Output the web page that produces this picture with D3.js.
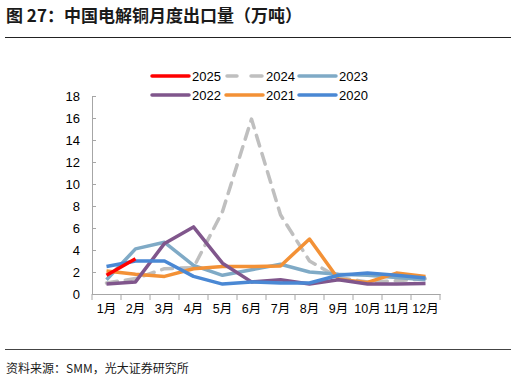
<!DOCTYPE html>
<html><head><meta charset="utf-8">
<script src="https://cdn.jsdelivr.net/npm/d3@7"></script>
<style>
body{margin:0;background:#fff;}
text{font-family:"Liberation Sans","Noto Sans CJK SC",sans-serif;}
</style></head>
<body><svg id="c" width="516" height="382"></svg>
<script>
const months = ["1月","2月","3月","4月","5月","6月","7月","8月","9月","10月","11月","12月"];
const yTicks = [0,2,4,6,8,10,12,14,16,18];
const s2025 = [1.7, 3.2];
const s2024 = [1.0, 1.4, 2.3, 2.4, 7.5, 15.9, 7.2, 3.0, 1.5, 1.1, 1.2, 1.4];
const s2023 = [1.3, 4.1, 4.7, 2.6, 1.7, 2.2, 2.7, 2.0, 1.8, 1.7, 1.5, 1.3];
const s2022 = [0.9, 1.1, 4.6, 6.1, 2.8, 1.1, 1.3, 0.9, 1.3, 0.9, 0.9, 0.95];
const s2021 = [2.1, 1.8, 1.6, 2.3, 2.5, 2.5, 2.55, 5.0, 1.35, 1.05, 1.9, 1.6];
const s2020 = [2.5, 3.0, 3.0, 1.6, 0.9, 1.1, 1.0, 1.0, 1.7, 1.9, 1.7, 1.45];

const series = [
  {name:"2025", data:s2025, color:"#FF0000", dash:null},
  {name:"2024", data:s2024, color:"#BFBFBF", dash:"11,8"},
  {name:"2023", data:s2023, color:"#7FAAC6", dash:null},
  {name:"2022", data:s2022, color:"#80568C", dash:null},
  {name:"2021", data:s2021, color:"#F39136", dash:null},
  {name:"2020", data:s2020, color:"#4A88D4", dash:null}
];
const drawOrder = ["2024","2023","2021","2022","2020","2025"];

const svg = d3.select("#c");
const x = d3.scaleBand().domain(months).range([92,440]);
const y = d3.scaleLinear().domain([0,18]).range([294,96]);

// title
svg.append("text").attr("x",6).attr("y",22).attr("font-size",17).attr("font-weight","bold")
  .attr("fill","#1a1a1a").style("font-family","'Noto Sans CJK SC',sans-serif")
  .text("图 27：中国电解铜月度出口量（万吨）");
svg.append("line").attr("x1",5).attr("x2",511).attr("y1",37.5).attr("y2",37.5)
  .attr("stroke","#222").attr("stroke-width",1);

// y axis
const ya = svg.append("g").attr("transform","translate(92,0)")
  .call(d3.axisLeft(y).tickValues(yTicks).tickSizeInner(-4).tickSizeOuter(0).tickPadding(12));
ya.select(".domain").attr("stroke","#A6A6A6");
ya.selectAll(".tick line").attr("stroke","#A6A6A6");
ya.selectAll("text").attr("font-size",13).attr("fill","#000").style("font-family","'Liberation Sans',sans-serif");

// x axis
const xa = svg.append("g").attr("transform","translate(0,294)")
  .call(d3.axisBottom(x).tickSize(0).tickPadding(10));
xa.select(".domain").attr("stroke","#A6A6A6");
xa.selectAll("text").attr("font-size",12.5).attr("fill","#000");
const edges = d3.range(0,13).map(i=>92+x.step()*i);
svg.append("g").selectAll("line").data(edges).join("line")
  .attr("x1",d=>d).attr("x2",d=>d).attr("y1",294).attr("y2",300)
  .attr("stroke","#A6A6A6");

// lines
const line = d3.line().x((d,i)=>x(months[i])+x.bandwidth()/2).y(d=>y(d));
drawOrder.forEach(n=>{
  const s = series.find(t=>t.name===n);
  svg.append("path").attr("d",line(s.data)).attr("fill","none")
    .attr("stroke",s.color).attr("stroke-width",3.5)
    .attr("stroke-linejoin","round").attr("stroke-linecap", s.dash? "round":"butt")
    .attr("stroke-dasharray",s.dash);
});

// legend
const legPos = [[152,76],[226,76],[299,76],[152,95],[226,95],[299,95]];
series.forEach((s,i)=>{
  const [lx,ly] = legPos[i];
  const g = svg.append("g");
  if(s.dash){
    g.append("line").attr("x1",lx+1).attr("x2",lx+11).attr("y1",ly).attr("y2",ly)
      .attr("stroke",s.color).attr("stroke-width",3.5).attr("stroke-linecap","round");
    g.append("line").attr("x1",lx+25).attr("x2",lx+36).attr("y1",ly).attr("y2",ly)
      .attr("stroke",s.color).attr("stroke-width",3.5).attr("stroke-linecap","round");
  } else {
    g.append("line").attr("x1",lx).attr("x2",lx+37).attr("y1",ly).attr("y2",ly)
      .attr("stroke",s.color).attr("stroke-width",3.5).attr("stroke-linecap","round");
  }
  g.append("text").attr("x",lx+40).attr("y",ly+5).attr("font-size",13).attr("fill","#000").text(s.name);
});

// footer
svg.append("line").attr("x1",5).attr("x2",511).attr("y1",349.5).attr("y2",349.5)
  .attr("stroke","#444").attr("stroke-width",1);
svg.append("text").attr("x",6).attr("y",373).attr("font-size",12).attr("fill","#1a1a1a")
  .style("font-family","'Noto Sans CJK SC',sans-serif")
  .text("资料来源：SMM，光大证券研究所");
</script></body></html>
